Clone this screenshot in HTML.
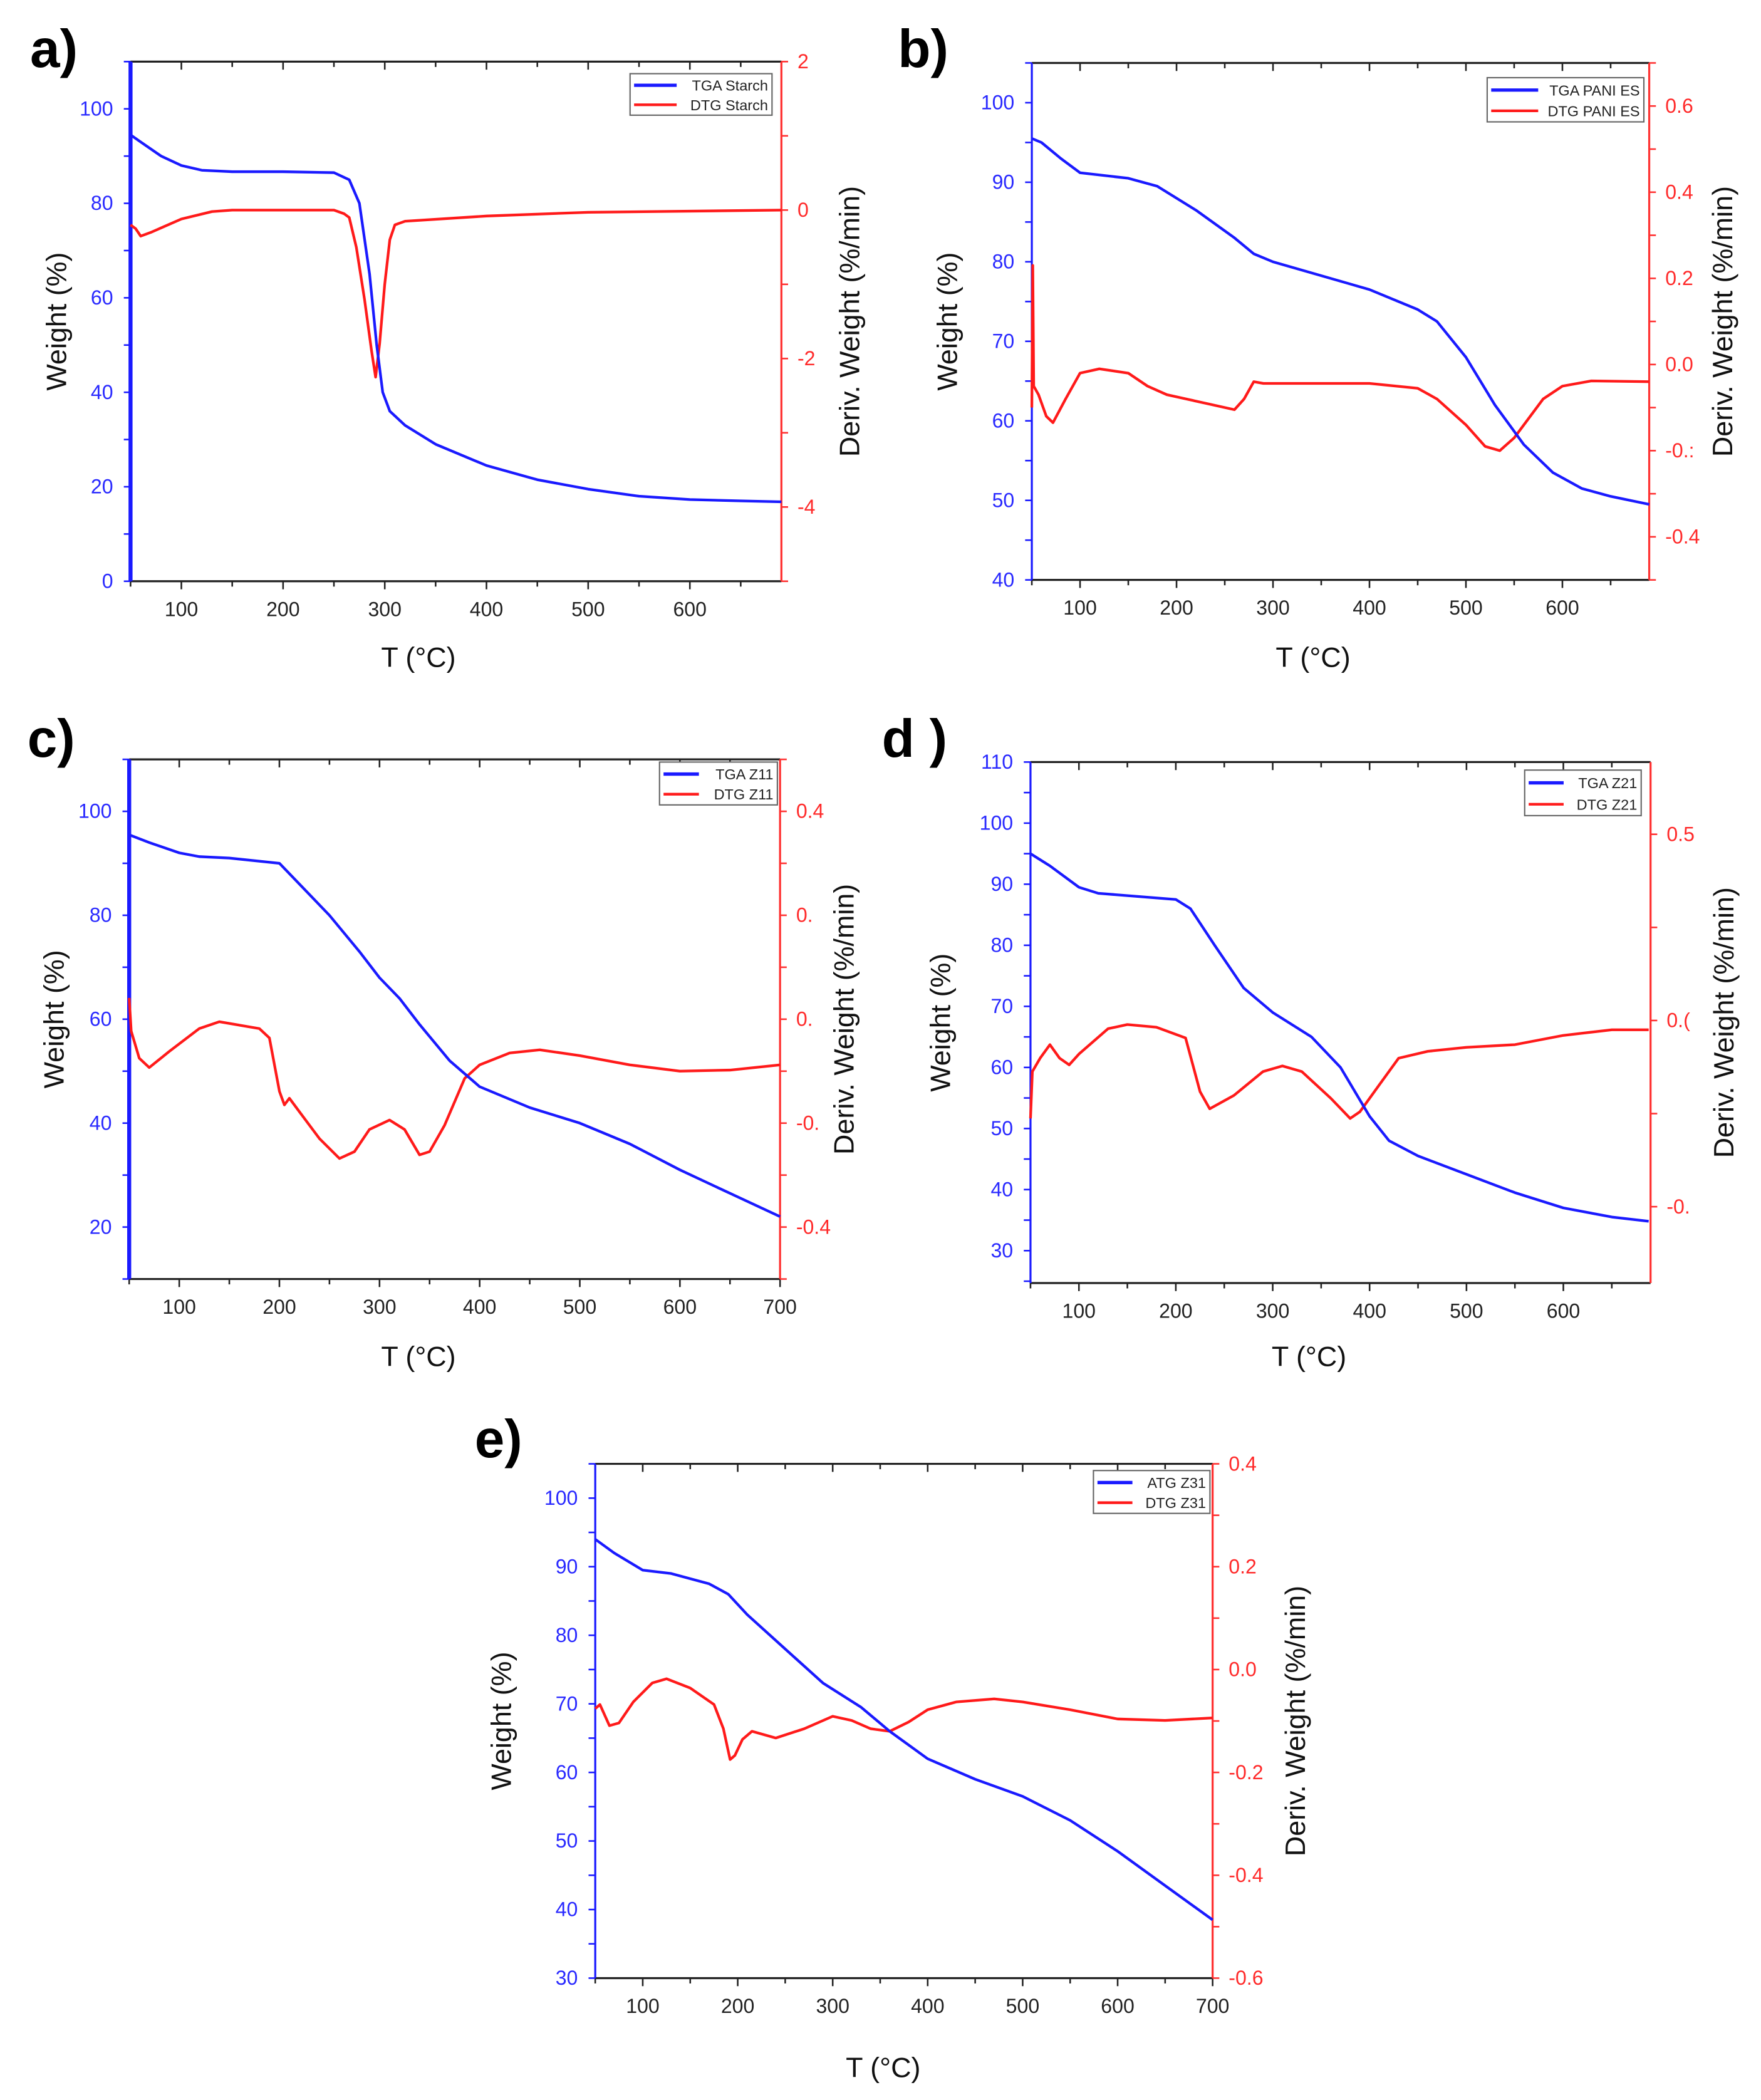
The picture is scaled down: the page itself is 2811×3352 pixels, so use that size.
<!DOCTYPE html>
<html><head><meta charset="utf-8">
<style>
html,body{margin:0;padding:0;background:#fff;}
svg{display:block;font-family:"Liberation Sans",Arial,sans-serif;}
</style></head>
<body>
<svg id="fig" width="2811" height="3352" viewBox="0 0 1310 1568" xmlns="http://www.w3.org/2000/svg"></svg>
<script>
// ---- Panel a (Starch) ----
const aTgaT=[50,60,80,100,120,150,200,250,265,275,285,292,298,305,320,350,400,450,500,550,600,650,690];
const aTgaW=[94.5,93,90,88,87,86.7,86.7,86.5,85,80,65,50,40,36,33,29,24.5,21.5,19.5,18,17.3,17,16.8];
const aDtgT=[50,55,60,70,100,130,150,250,260,265,272,280,287,291,295,300,305,310,320,400,500,690];
const aDtgD=[-0.2,-0.25,-0.35,-0.3,-0.12,-0.02,0,0,-0.05,-0.1,-0.5,-1.2,-1.9,-2.25,-1.8,-1,-0.4,-0.2,-0.15,-0.08,-0.03,0];
// ---- Panel b (PANI ES) ----
const bTgaT=[50,60,80,100,150,180,220,260,280,300,400,450,470,500,530,560,590,620,650,690];
const bTgaW=[95.5,95,93,91.2,90.5,89.5,86.5,83,81,80,76.5,74,72.5,68,62,57,53.5,51.5,50.5,49.5];
const bDtgT=[50,51,52,57,65,72,85,100,120,150,170,190,230,260,270,280,290,400,450,470,500,520,535,550,580,600,630,690];
const bDtgD=[-0.1,0.23,-0.05,-0.07,-0.12,-0.135,-0.08,-0.02,-0.01,-0.02,-0.05,-0.07,-0.09,-0.105,-0.08,-0.04,-0.044,-0.044,-0.055,-0.08,-0.14,-0.19,-0.2,-0.17,-0.08,-0.05,-0.038,-0.04];
// ---- Panel c (Z11) ----
const cTgaT=[50,70,100,120,150,200,220,250,280,300,320,340,370,400,450,500,550,600,650,700];
const cTgaW=[95.5,94,92,91.3,91,90,86,80,73,68,64,59,52,47,43,40,36,31,26.5,22];
const cDtgT=[50,52,60,70,90,120,140,180,190,200,205,210,220,240,260,275,290,310,325,340,350,365,385,400,430,460,500,550,600,650,700];
const cDtgD=[0.041,-0.023,-0.075,-0.093,-0.062,-0.018,-0.005,-0.018,-0.036,-0.139,-0.165,-0.152,-0.178,-0.23,-0.268,-0.255,-0.212,-0.194,-0.212,-0.261,-0.255,-0.204,-0.114,-0.088,-0.065,-0.059,-0.07,-0.088,-0.1,-0.098,-0.088];
// ---- Panel d (Z21) ----
const dTgaT=[50,70,100,120,200,215,240,270,300,340,370,400,420,450,500,550,600,650,688];
const dTgaW=[95,93,89.5,88.5,87.5,86,80,73,69,65,60,52,48,45.5,42.5,39.5,37,35.5,34.8];
const dDtgT=[50,52,60,70,80,90,100,130,150,180,210,225,235,260,290,310,330,360,380,390,410,430,460,500,550,600,650,688];
const dDtgD=[-0.263,-0.137,-0.101,-0.065,-0.101,-0.119,-0.09,-0.022,-0.011,-0.018,-0.047,-0.191,-0.237,-0.201,-0.137,-0.122,-0.137,-0.209,-0.263,-0.245,-0.173,-0.101,-0.083,-0.072,-0.065,-0.04,-0.025,-0.025];
// ---- Panel e (Z31) ----
const eTgaT=[50,70,100,130,170,190,210,250,290,330,360,400,450,500,550,600,650,700];
const eTgaW=[94,92,89.5,89,87.5,86,83,78,73,69.5,66,62,59,56.5,53,48.5,43.5,38.5];
const eDtgT=[50,55,65,75,90,110,125,150,175,185,192,197,205,215,240,270,300,320,340,360,380,400,430,470,500,550,600,650,700];
const eDtgD=[-0.076,-0.068,-0.109,-0.104,-0.063,-0.026,-0.018,-0.036,-0.068,-0.115,-0.175,-0.167,-0.136,-0.12,-0.133,-0.115,-0.091,-0.099,-0.115,-0.12,-0.102,-0.078,-0.063,-0.057,-0.063,-0.078,-0.096,-0.099,-0.094];
// tick labels
const aXTicks=[100,200,300,400,500,600], aLTicks=[0,20,40,60,80,100], aRTicks=[2,0,-2,-4], aRLabels=["2","0","-2","-4"];
const bXTicks=[100,200,300,400,500,600], bLTicks=[40,50,60,70,80,90,100], bRTicks=[0.6,0.4,0.2,0,-0.2,-0.4], bRLabels=["0.6","0.4","0.2","0.0","-0.:","-0.4"];
const cXTicks=[100,200,300,400,500,600,700], cLTicks=[20,40,60,80,100], cRTicks=[0.4,0.2,0,-0.2,-0.4], cRLabels=["0.4","0.","0.","-0.","-0.4"];
const dXTicks=[100,200,300,400,500,600], dLTicks=[30,40,50,60,70,80,90,100,110], dRTicks=[0.5,0,-0.5], dRLabels=["0.5","0.(","-0."];
const eXTicks=[100,200,300,400,500,600,700], eLTicks=[30,40,50,60,70,80,90,100], eRTicks=[0.4,0.2,0,-0.2,-0.4,-0.6], eRLabels=["0.4","0.2","0.0","-0.2","-0.4","-0.6"];

const NS="http://www.w3.org/2000/svg";
const svg=document.getElementById('fig');
function mk(tag,attrs,parent,text){const e=document.createElementNS(NS,tag);for(const k in attrs)e.setAttribute(k,attrs[k]);if(text!==undefined)e.textContent=text;(parent||svg).appendChild(e);return e;}

const panels=[
 {id:'a',lab:'a)',lx:20,ly:50,L:95,R:581,T:46,B:434,x0:50,x1:690,y0:0,y1:110,r0:-5,r1:2,xt:aXTicks,lt:aLTicks,lminor:10,rt:aRTicks,rl:aRLabels,rminor:1,
  tgaT:aTgaT,tgaW:aTgaW,dtgT:aDtgT,dtgD:aDtgD,leg:[468,55,106,31],n1:'TGA Starch',n2:'DTG Starch',wx:40,dx:632,tx:310,ty:498,lw:3},
 {id:'b',lab:'b)',lx:668,ly:50,L:768,R:1229,T:47,B:433,x0:50,x1:690,y0:40,y1:105,r0:-0.5,r1:0.7,xt:bXTicks,lt:bLTicks,lminor:5,rt:bRTicks,rl:bRLabels,rminor:0.1,
  tgaT:bTgaT,tgaW:bTgaW,dtgT:bDtgT,dtgD:bDtgD,leg:[1108,58,117,33],n1:'TGA PANI ES',n2:'DTG PANI ES',wx:705,dx:1284,tx:978,ty:498,lw:1.5},
 {id:'c',lab:'c)',lx:18,ly:565,L:94,R:580,T:567,B:955,x0:50,x1:700,y0:10,y1:110,r0:-0.5,r1:0.5,xt:cXTicks,lt:cLTicks,lminor:10,rt:cRTicks,rl:cRLabels,rminor:0.1,
  tgaT:cTgaT,tgaW:cTgaW,dtgT:cDtgT,dtgD:cDtgD,leg:[490,569,88,32],n1:'TGA Z11',n2:'DTG Z11',wx:38,dx:628,tx:310,ty:1020,lw:3},
 {id:'d',lab:'d )',lx:656,ly:565,L:767,R:1230,T:569,B:958,x0:50,x1:690,y0:24.7,y1:110,r0:-0.705,r1:0.694,xt:dXTicks,lt:dLTicks,lminor:5,rt:dRTicks,rl:dRLabels,rminor:0.25,
  tgaT:dTgaT,tgaW:dTgaW,dtgT:dDtgT,dtgD:dDtgD,leg:[1136,575,87,34],n1:'TGA Z21',n2:'DTG Z21',wx:700,dx:1285,tx:975,ty:1020,lw:1.5},
 {id:'e',lab:'e)',lx:352,ly:1088,L:442,R:903,T:1093,B:1477,x0:50,x1:700,y0:30,y1:105,r0:-0.6,r1:0.4,xt:eXTicks,lt:eLTicks,lminor:5,rt:eRTicks,rl:eRLabels,rminor:0.1,
  tgaT:eTgaT,tgaW:eTgaW,dtgT:eDtgT,dtgD:eDtgD,leg:[814,1098,87,32],n1:'ATG Z31',n2:'DTG Z31',wx:372,dx:965,tx:657,ty:1551,lw:1.5}
];

panels.forEach(p=>{
  const g=mk('g',{});
  
  
  const X=v=>p.L+(v-p.x0)/(p.x1-p.x0)*(p.R-p.L);
  const YL=v=>p.B-(v-p.y0)/(p.y1-p.y0)*(p.B-p.T);
  const YR=v=>p.B-(v-p.r0)/(p.r1-p.r0)*(p.B-p.T);
  const pl=mk('text',{x:p.lx,y:p.ly,'font-size':40,'font-weight':'bold',fill:'#000'},g,p.lab);
  
  
  // frame
  const top=mk('line',{x1:p.L,y1:p.T,x2:p.R,y2:p.T,stroke:'#222','stroke-width':1.5},g);
  
  const bot=mk('line',{x1:p.L,y1:p.B,x2:p.R,y2:p.B,stroke:'#222','stroke-width':1.5},g);
  
  // x ticks
  for(let v=p.x0;v<=p.x1;v+=50){const x=X(v);
    mk('line',{x1:x,y1:p.B,x2:x,y2:p.B+(v%100===0?6:4),stroke:'#222','stroke-width':1.2},g);
    mk('line',{x1:x,y1:p.T,x2:x,y2:p.T+(v%100===0?6:4),stroke:'#222','stroke-width':1.2},g);}
  p.xt.forEach(v=>{const t=mk('text',{x:X(v),y:p.B+26,'font-size':15,'text-anchor':'middle',fill:'#222'},g,String(v));
    });
  // left axis
  const la=mk('line',{x1:p.L,y1:p.T,x2:p.L,y2:p.B,stroke:'#1a1aff','stroke-width':p.lw},g);
  
  for(let v=Math.ceil(p.y0/p.lminor)*p.lminor;v<=p.y1+1e-6;v+=p.lminor){mk('line',{x1:p.L-5,y1:YL(v),x2:p.L,y2:YL(v),stroke:'#1a1aff','stroke-width':1.2},g);}
  p.lt.forEach(v=>{const t=mk('text',{x:p.L-13,y:YL(v)+5,'font-size':15,'text-anchor':'end',fill:'#2a2aff'},g,String(v));
    });
  // right axis
  const ra=mk('line',{x1:p.R,y1:p.T,x2:p.R,y2:p.B,stroke:'#ff3030','stroke-width':1.5},g);
  
  for(let v=Math.ceil(p.r0/p.rminor-1e-6)*p.rminor;v<=p.r1+1e-6;v+=p.rminor){mk('line',{x1:p.R,y1:YR(v),x2:p.R+5,y2:YR(v),stroke:'#ff3030','stroke-width':1.2},g);}
  p.rt.forEach((v,i)=>{const t=mk('text',{x:p.R+12,y:YR(v)+5,'font-size':15,fill:'#ff2a2a'},g,p.rl[i]);
    });
  // titles
  const tx=mk('text',{x:p.tx,y:p.ty,'font-size':21,'text-anchor':'middle',fill:'#111'},g,'T (\u00B0C)');
  
  const cy=(p.T+p.B)/2;
  const wt=mk('text',{x:p.wx,y:cy,'font-size':21,'text-anchor':'middle',fill:'#111',transform:`rotate(-90 ${p.wx} ${cy})`,dy:7},g,'Weight (%)');
  
  const dt=mk('text',{x:p.dx,y:cy,'font-size':21,'text-anchor':'middle',fill:'#111',transform:`rotate(-90 ${p.dx} ${cy})`,dy:7},g,'Deriv. Weight (%/min)');
  
  // series
  const dtg=mk('polyline',{points:p.dtgT.map((t,i)=>X(t).toFixed(1)+','+YR(p.dtgD[i]).toFixed(1)).join(' '),fill:'none',stroke:'#ff1a1a','stroke-width':2,'stroke-linejoin':'round'},g);
  
  const tga=mk('polyline',{points:p.tgaT.map((t,i)=>X(t).toFixed(1)+','+YL(p.tgaW[i]).toFixed(1)).join(' '),fill:'none',stroke:'#1a1aff','stroke-width':2,'stroke-linejoin':'round'},g);
  
  // legend
  const [lx,ly,lw,lh]=p.leg;
  const lg=mk('g',{},g);
  
  mk('rect',{x:lx,y:ly,width:lw,height:lh,fill:'#fff',stroke:'#666','stroke-width':1},lg);
  const sw=lw*0.3;
  const e1=mk('g',{},lg);
  
  mk('line',{x1:lx+3,y1:ly+lh*0.28,x2:lx+3+sw,y2:ly+lh*0.28,stroke:'#1a1aff','stroke-width':2.5},e1);
  mk('text',{x:lx+lw-3,y:ly+lh*0.28+4,'font-size':11,'text-anchor':'end',fill:'#222'},e1,p.n1);
  const e2=mk('g',{},lg);
  
  mk('line',{x1:lx+3,y1:ly+lh*0.75,x2:lx+3+sw,y2:ly+lh*0.75,stroke:'#ff1a1a','stroke-width':2},e2);
  mk('text',{x:lx+lw-3,y:ly+lh*0.75+4,'font-size':11,'text-anchor':'end',fill:'#222'},e2,p.n2);
});
</script>
</body></html>
